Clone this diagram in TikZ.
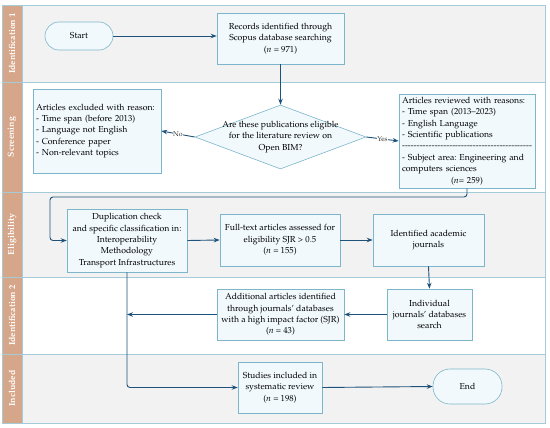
\documentclass[tikz,border=0pt]{standalone}
\usepackage[T1]{fontenc}
\usepackage{mathpazo}
\usetikzlibrary{arrows.meta,shapes.geometric}
\frenchspacing
\definecolor{arrc}{RGB}{30,82,122}
\definecolor{boxc}{RGB}{125,182,202}
\definecolor{boxf}{RGB}{241,249,253}
\definecolor{rowg}{RGB}{242,242,242}
\definecolor{rowb}{RGB}{165,203,216}
\definecolor{side}{RGB}{214,166,138}
\tikzset{
  boxn/.style={draw=boxc, fill=boxf, line width=0.6pt, align=center, inner sep=2pt,
    font=\fontsize{8.7}{11.4}\selectfont},
  termn/.style={boxn},
  arr/.style={draw=arrc, line width=0.9pt, -{Stealth[length=6pt,width=4.5pt]}},
  rowbox/.style={draw=rowb, line width=0.7pt},
  sidetxt/.style={text=white, font=\fontsize{8.8}{10}\selectfont\bfseries, rotate=90},
  yn/.style={fill=white, inner sep=0.5pt, font=\fontsize{7}{8}\selectfont, text=black!80}
}
\begin{document}
\begin{tikzpicture}[x=1pt,y=-1pt]
\useasboundingbox (0,0) rectangle (550,428);
% rows
\path[rowbox, fill=rowg] (22,5) rectangle (545,82);
\path[rowbox, fill=white] (22,82) rectangle (545,192);
\path[rowbox, fill=rowg] (22,192) rectangle (545,277);
\path[rowbox, fill=white] (22,277) rectangle (545,354);
\path[rowbox, fill=rowg] (22,354) rectangle (545,423);
% side bar
\path[rowbox, fill=side] (2,5) rectangle (22,82);
\path[rowbox, fill=side] (2,82) rectangle (22,192);
\path[rowbox, fill=side] (2,192) rectangle (22,277);
\path[rowbox, fill=side] (2,277) rectangle (22,354);
\path[rowbox, fill=side] (2,354) rectangle (22,423);
\node[sidetxt] (s1) at (12,43.5) {Identification 1};
\node[sidetxt] (s2) at (12,137) {Screening};
\node[sidetxt] (s3) at (12,234.5) {Eligibility};
\node[sidetxt] (s4) at (12,315.5) {Identification 2};
\node[sidetxt] (s5) at (12,388.5) {Included};
% nodes
\node[termn, rounded corners=14pt, minimum width=68pt, minimum height=28pt] (start) at (79,36) {Start};
\node[boxn, minimum width=127pt, minimum height=51pt] (rec) at (280.5,38.5)
  {Records identified through\\Scopus database searching\\(\textit{n} = 971)};
\node[diamond, draw=boxc, fill=boxf, line width=0.6pt, minimum width=171pt, minimum height=64pt, inner sep=0pt] (q) at (280.5,137) {};
\node[align=center, font=\fontsize{8.7}{11.4}\selectfont] (qt) at (q) {Are these publications eligible\\for the literature review on\\Open BIM?};
\node[boxn, align=left, text width=122pt, minimum width=128pt, minimum height=84pt] (exc) at (97,131)
  {Articles excluded with reason:\\- Time span (before 2013)\\- Language not English\\- Conference paper\\- Non-relevant topics};
\node[boxn, align=left, text width=130pt, minimum width=136pt, minimum height=94pt] (rev) at (467,141)
  {Articles reviewed with reasons:\\- Time span (2013--2023)\\- English Language\\- Scientific publications\\\makebox[\linewidth]{\xleaders\hbox{-}\hfill}\\- Subject area: Engineering and\\computers sciences\\\makebox[\linewidth]{(\textit{n}= 259)}};
\node[boxn, minimum width=120pt, minimum height=63pt] (dup) at (127,240.5)
  {Duplication check\\and specific classification in:\\Interoperability\\Methodology\\Transport Infrastructures};
\node[boxn, minimum width=120pt, minimum height=52pt] (full) at (280,240)
  {Full-text articles assessed for\\eligibility SJR > 0.5\\(\textit{n} = 155)};
\node[boxn, minimum width=111pt, minimum height=52pt] (ide) at (428.5,240)
  {Identified academic\\journals};
\node[boxn, minimum width=85pt, minimum height=51pt] (ind) at (429.5,314.5)
  {Individual\\journals' databases\\search};
\node[boxn, minimum width=127pt, minimum height=51pt] (add) at (280.5,314.5)
  {Additional articles identified\\through journals' databases\\with a high impact factor (SJR)\\(\textit{n} = 43)};
\node[boxn, minimum width=84pt, minimum height=51pt] (stu) at (280,387.5)
  {Studies included in\\systematic review\\(\textit{n} = 198)};
\node[termn, rounded corners=17pt, minimum width=69pt, minimum height=35pt] (end) at (467.5,386.5) {End};
% connectors
\coordinate (c1) at (50,197);
\draw[arr] (start.east) -- (start.east -| rec.west);
\draw[arr] (rec.south) -- (q.north);
\draw[arr] (q.west) -- node[yn] {No} (exc.east);
\draw[arr] (q.east) -- node[yn] {Yes} (rev.west);
\draw[arr, rounded corners=3pt] (rev.south) |- (c1) |- (dup.west);
\draw[arr] (dup.east) -- (full.west);
\draw[arr] (full.east) -- (ide.west);
\draw[arr] (ide.south) -- (ind.north);
\draw[arr] (ind.west) -- (add.east);
\draw[arr] (add.west) -- (add.west -| dup.south);
\draw[arr, rounded corners=3pt] (dup.south) |- (stu.west);
\draw[arr] (stu.east) -- (end.west);
\end{tikzpicture}
\end{document}
